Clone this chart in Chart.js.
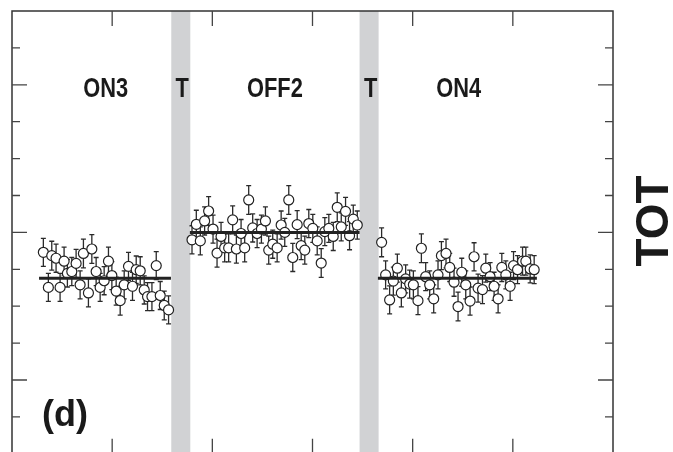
<!DOCTYPE html>
<html>
<head>
<meta charset="utf-8">
<script src="https://cdn.jsdelivr.net/npm/chart.js@4"></script>
<style>
  html, body { margin: 0; padding: 0; background: #fff; overflow: hidden; }
  #wrap { width: 673px; height: 460px; }
</style>
</head>
<body>
<div id="wrap"><canvas id="chart" width="673" height="460"></canvas></div>
<script>
// ===================== DATA =====================
// x: scan index (no labels), y: TOT in minor-tick units
const on3X = [0.313, 0.363, 0.397, 0.44, 0.48, 0.52, 0.553, 0.597, 0.64, 0.68, 0.713, 0.763,
  0.797, 0.84, 0.88, 0.92, 0.963, 0.997, 1.04, 1.08, 1.12, 1.163, 1.203, 1.24, 1.28, 1.32,
  1.353, 1.397, 1.44, 1.48, 1.52, 1.563];
const on3Y = [5.46, 4.51, 5.37, 5.30, 4.51, 5.22, 4.89, 4.94, 5.16, 4.58, 5.43, 4.36,
  5.55, 4.94, 4.51, 4.69, 5.22, 4.83, 4.41, 4.15, 4.58, 5.08, 4.54, 4.99, 4.96, 4.44,
  4.26, 4.26, 5.10, 4.29, 4.02, 3.90];
const on3Err = [0.38, 0.38, 0.39, 0.38, 0.38, 0.38, 0.37, 0.38, 0.38, 0.38, 0.39, 0.38,
  0.39, 0.38, 0.38, 0.38, 0.38, 0.38, 0.38, 0.39, 0.38, 0.38, 0.38, 0.37, 0.38, 0.38,
  0.38, 0.38, 0.38, 0.38, 0.39, 0.38];

const off2X = [1.797, 1.84, 1.88, 1.923, 1.963, 2.007, 2.047, 2.087, 2.123, 2.163, 2.203,
  2.24, 2.287, 2.323, 2.363, 2.403, 2.447, 2.49, 2.53, 2.563, 2.603, 2.647, 2.687, 2.723,
  2.763, 2.803, 2.847, 2.887, 2.923, 2.963, 3.003, 3.047, 3.087, 3.123, 3.163, 3.207,
  3.247, 3.287, 3.33, 3.37, 3.407, 3.447];
const off2Y = [5.80, 6.22, 5.77, 6.31, 6.58, 6.09, 5.44, 5.89, 5.58, 5.58, 6.34,
  5.55, 5.97, 5.58, 6.88, 6.12, 5.97, 6.09, 6.31, 5.52, 5.68, 5.58, 6.20, 6.00,
  6.88, 5.32, 6.21, 5.64, 5.52, 6.24, 6.11, 5.77, 5.17, 6.02, 6.11, 5.89,
  6.68, 6.15, 6.57, 5.91, 6.36, 6.20];
const off2Err = [0.38, 0.38, 0.38, 0.38, 0.39, 0.38, 0.38, 0.38, 0.38, 0.38, 0.38,
  0.38, 0.38, 0.38, 0.39, 0.38, 0.38, 0.38, 0.38, 0.38, 0.38, 0.38, 0.38, 0.38,
  0.39, 0.38, 0.38, 0.38, 0.38, 0.38, 0.38, 0.38, 0.39, 0.38, 0.38, 0.38,
  0.39, 0.38, 0.38, 0.38, 0.38, 0.38];

const on4X = [3.69, 3.73, 3.77, 3.807, 3.847, 3.887, 3.93, 3.97, 4.007, 4.053, 4.087,
  4.13, 4.17, 4.21, 4.253, 4.287, 4.333, 4.37, 4.413, 4.453, 4.49, 4.53, 4.573,
  4.613, 4.653, 4.697, 4.73, 4.773, 4.813, 4.853, 4.89, 4.93, 4.973, 5.007, 5.047,
  5.097, 5.13, 5.173, 5.213];
const on4Y = [5.73, 4.85, 4.17, 4.68, 5.03, 4.36, 4.74, 4.60, 4.58, 4.15, 5.57,
  4.80, 4.58, 4.20, 4.85, 5.37, 5.43, 5.05, 4.65, 3.99, 4.92, 4.58, 4.14,
  5.34, 4.49, 4.45, 5.03, 4.80, 4.54, 4.20, 5.05, 4.85, 4.54, 5.10, 4.99,
  5.22, 5.22, 5.01, 4.99];
const on4Err = [0.39, 0.38, 0.38, 0.38, 0.38, 0.38, 0.38, 0.38, 0.38, 0.38, 0.39,
  0.38, 0.38, 0.38, 0.38, 0.38, 0.39, 0.38, 0.38, 0.39, 0.38, 0.38, 0.38,
  0.38, 0.38, 0.38, 0.38, 0.38, 0.38, 0.38, 0.38, 0.38, 0.38, 0.38, 0.38,
  0.38, 0.38, 0.38, 0.38];

// mean level of each period: [xStart, xEnd, level]
const meanLines = [[0.27, 1.587, 4.76], [1.776, 3.47, 6.0], [3.653, 5.24, 4.76]];
// transition ("T") bands
const bands = [[1.59, 1.78], [3.47, 3.66]];
const periodNames = ["ON3", "T", "OFF2", "T", "ON4"];
const periodCenters = [0.935, 1.70, 2.625, 3.58, 4.46];

const xTicks = [1, 2, 3, 4, 5];
const yTicks = [1, 2, 3, 4, 5, 6, 7, 8, 9, 10, 11];
const yMajor = [2, 6, 10];

const series = [
  { x: on3X, y: on3Y, err: on3Err },
  { x: off2X, y: off2Y, err: off2Err },
  { x: on4X, y: on4Y, err: on4Err }
];

// ===================== PLUGIN =====================
const decor = {
  id: "decor",
  beforeDatasetsDraw(chart) {
    const { ctx, chartArea: a, scales: { x, y } } = chart;
    ctx.save();
    ctx.fillStyle = "#d1d2d4";
    bands.forEach(([b0, b1]) => {
      const p0 = x.getPixelForValue(b0);
      const p1 = x.getPixelForValue(b1);
      ctx.fillRect(p0, a.top, p1 - p0, a.bottom - a.top);
    });

    // error bars
    ctx.strokeStyle = "#2a2a2a";
    ctx.lineWidth = 1.3;
    series.forEach(s => {
      s.x.forEach((xv, i) => {
        const px = x.getPixelForValue(xv);
        const top = y.getPixelForValue(s.y[i] + s.err[i]);
        const bot = y.getPixelForValue(s.y[i] - s.err[i]);
        ctx.beginPath();
        ctx.moveTo(px, top); ctx.lineTo(px, bot);
        ctx.moveTo(px - 2.5, top); ctx.lineTo(px + 2.5, top);
        ctx.moveTo(px - 2.5, bot); ctx.lineTo(px + 2.5, bot);
        ctx.stroke();
      });
    });
    ctx.restore();
  },
  afterDraw(chart) {
    const { ctx, chartArea: a, scales: { x, y } } = chart;
    ctx.save();

    // frame
    ctx.strokeStyle = "#333";
    ctx.lineWidth = 1.5;
    ctx.strokeRect(a.left, a.top, a.right - a.left, a.bottom - a.top);

    // inward ticks
    ctx.lineWidth = 1.3;
    ctx.strokeStyle = "#444";
    ctx.beginPath();
    xTicks.forEach(v => {
      const px = x.getPixelForValue(v);
      ctx.moveTo(px, a.top); ctx.lineTo(px, a.top + 15);
      ctx.moveTo(px, a.bottom); ctx.lineTo(px, a.bottom - 15);
    });
    yTicks.forEach(v => {
      const py = y.getPixelForValue(v);
      const len = yMajor.includes(v) ? 15 : 8;
      ctx.moveTo(a.left, py); ctx.lineTo(a.left + len, py);
      ctx.moveTo(a.right, py); ctx.lineTo(a.right - len, py);
    });
    ctx.stroke();

    // period names, condensed by a horizontal squeeze
    ctx.fillStyle = "#1a1a1a";
    ctx.font = "bold 28px 'Liberation Sans', Arial, sans-serif";
    ctx.textAlign = "center";
    ctx.textBaseline = "middle";
    const ty = y.getPixelForValue(9.87);
    periodNames.forEach((t, i) => {
      const tx = x.getPixelForValue(periodCenters[i]);
      ctx.save();
      ctx.translate(tx, ty);
      ctx.scale(0.78, 1);
      ctx.fillText(t, 0, 0);
      ctx.restore();
    });

    // panel tag
    ctx.font = "bold 36px 'Liberation Sans', Arial, sans-serif";
    ctx.textAlign = "left";
    ctx.fillText("(d)", a.left + 30, 416);

    // axis name on the right
    ctx.font = "bold 46px 'Liberation Sans', Arial, sans-serif";
    ctx.translate(655, 221);
    ctx.rotate(-Math.PI / 2);
    ctx.textAlign = "center";
    ctx.fillText("TOT", 0, 0);
    ctx.restore();
  }
};

// ===================== CHART =====================
const pointSet = s => ({
  type: "scatter",
  data: s.x.map((xv, i) => ({ x: xv, y: s.y[i] })),
  pointRadius: 5,
  pointBackgroundColor: "#fff",
  pointBorderColor: "#222",
  pointBorderWidth: 1.2,
  order: 2
});

const lineSets = meanLines.map(([x0, x1, lvl]) => ({
  type: "line",
  data: [{ x: x0, y: lvl }, { x: x1, y: lvl }],
  borderColor: "#222",
  borderWidth: 3,
  pointRadius: 0,
  order: 1
}));

new Chart(document.getElementById("chart"), {
  type: "scatter",
  data: { datasets: [...lineSets, ...series.map(pointSet)] },
  options: {
    responsive: false,
    animation: false,
    layout: { padding: { left: 12, right: 60, top: 11, bottom: 5 } },
    plugins: { legend: { display: false }, tooltip: { enabled: false } },
    scales: {
      x: { type: "linear", min: 0, max: 6, display: false },
      y: { type: "linear", min: 0, max: 12, display: false }
    }
  },
  plugins: [decor]
});
</script>
</body>
</html>
